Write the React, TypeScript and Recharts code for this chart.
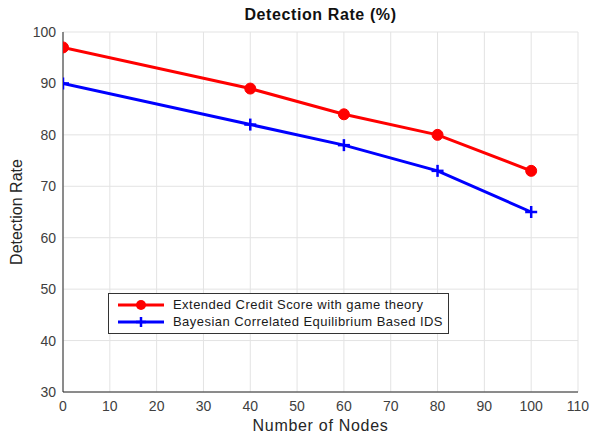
import { CartesianGrid, Line, LineChart, XAxis, YAxis } from "recharts";

const nodes = [0, 40, 60, 80, 100];
const creditScore = [97, 89, 84, 80, 73];
const bayesianIds = [90, 82, 78, 73, 65];
const xTicks = [0, 10, 20, 30, 40, 50, 60, 70, 80, 90, 100, 110];
const yTicks = [30, 40, 50, 60, 70, 80, 90, 100];

const seriesNames = {
  credit: "Extended Credit Score with game theory",
  bayes: "Bayesian Correlated Equilibrium Based IDS",
};

const data = nodes.map((n, i) => ({
  nodes: n,
  credit: creditScore[i],
  bayes: bayesianIds[i],
}));

const FONT = "'Liberation Sans', Arial, Helvetica, sans-serif";
const AXIS = "#262626";

function RedDot(props: any) {
  const { cx, cy } = props;
  if (cx == null || cy == null) return null;
  return <circle cx={cx} cy={cy} r={5.5} fill="#ff0000" stroke="#ff0000" />;
}

function BluePlus(props: any) {
  const { cx, cy } = props;
  if (cx == null || cy == null) return null;
  return (
    <g stroke="#0000ff" strokeWidth={2.5}>
      <line x1={cx - 6} y1={cy} x2={cx + 6} y2={cy} />
      <line x1={cx} y1={cy - 6} x2={cx} y2={cy + 6} />
    </g>
  );
}

const NoLabel = () => <g />;

// legend drawn as a plain box over the plot, like the matlab one
function LegendBox() {
  const rows = [
    { name: seriesNames.credit, color: "#ff0000", marker: "dot" },
    { name: seriesNames.bayes, color: "#0000ff", marker: "plus" },
  ];
  return (
    <div
      style={{
        position: "absolute",
        left: 108,
        top: 293,
        border: "1px solid #333",
        background: "#fff",
        width: 339,
        height: 37,
        padding: "2px 0 0 0",
        fontFamily: FONT,
        fontSize: 13,
        letterSpacing: 0.45,
        color: "#1a1a1a",
      }}
    >
      {rows.map((r) => (
        <div key={r.name} style={{ display: "flex", alignItems: "center", height: 17 }}>
          <svg width={64} height={14}>
            <line x1={9} y1={7} x2={55} y2={7} stroke={r.color} strokeWidth={3} />
            {r.marker === "dot" ? (
              <circle cx={32} cy={7} r={5} fill={r.color} />
            ) : (
              <g stroke={r.color} strokeWidth={2.5}>
                <line x1={27} y1={7} x2={37} y2={7} />
                <line x1={32} y1={2} x2={32} y2={12} />
              </g>
            )}
          </svg>
          <span>{r.name}</span>
        </div>
      ))}
    </div>
  );
}

export default function App() {
  const tickStyle = { fill: "#404040", fontSize: 14, fontFamily: FONT };
  return (
    <div style={{ position: "absolute", left: 0, top: 0, width: 592, height: 439, background: "#fff" }}>
      <div
        style={{
          position: "absolute",
          top: 6,
          left: 63,
          width: 515,
          textAlign: "center",
          fontFamily: FONT,
          fontWeight: 700,
          fontSize: 16,
          letterSpacing: 0.6,
          color: "#111",
        }}
      >
        Detection Rate (%)
      </div>
      <div
        style={{
          position: "absolute",
          left: 17,
          top: 212,
          transform: "translate(-50%, -50%) rotate(-90deg)",
          fontFamily: FONT,
          fontSize: 16,
          color: "#262626",
          whiteSpace: "nowrap",
        }}
      >
        Detection Rate
      </div>
      <div
        style={{
          position: "absolute",
          top: 417,
          left: 63,
          width: 515,
          textAlign: "center",
          fontFamily: FONT,
          fontSize: 16,
          letterSpacing: 0.7,
          color: "#262626",
        }}
      >
        Number of Nodes
      </div>
      <LineChart
        width={592}
        height={439}
        data={data}
        margin={{ top: 32, right: 14, left: 23, bottom: 17 }}
      >
        <CartesianGrid xAxisId="b" yAxisId="l" stroke="#e3e3e3" strokeWidth={1} />
        <XAxis
          xAxisId="b"
          dataKey="nodes"
          type="number"
          domain={[0, 110]}
          ticks={xTicks}
          allowDataOverflow
          tickLine={false}
          tickSize={0}
          tickMargin={9}
          height={30}
          axisLine={{ stroke: AXIS }}
          tick={tickStyle}
          interval={0}
        />
        <XAxis
          xAxisId="bi"
          type="number"
          domain={[0, 110]}
          ticks={xTicks}
          allowDataOverflow
          mirror
          height={0}
          tick={NoLabel}
          tickSize={5}
          tickLine={{ stroke: AXIS }}
          axisLine={false}
          interval={0}
        />
        <XAxis
          xAxisId="t"
          orientation="top"
          type="number"
          domain={[0, 110]}
          ticks={xTicks}
          allowDataOverflow
          mirror
          height={0}
          tick={NoLabel}
          tickSize={5}
          tickLine={{ stroke: AXIS }}
          axisLine={{ stroke: AXIS }}
          interval={0}
        />
        <YAxis
          yAxisId="l"
          type="number"
          domain={[30, 100]}
          ticks={yTicks}
          allowDataOverflow
          tickLine={false}
          tickSize={0}
          tickMargin={7}
          width={40}
          axisLine={{ stroke: AXIS }}
          tick={tickStyle}
          interval={0}
        />
        <YAxis
          yAxisId="li"
          type="number"
          domain={[30, 100]}
          ticks={yTicks}
          allowDataOverflow
          mirror
          width={0}
          tick={NoLabel}
          tickSize={5}
          tickLine={{ stroke: AXIS }}
          axisLine={false}
          interval={0}
        />
        <YAxis
          yAxisId="r"
          orientation="right"
          type="number"
          domain={[30, 100]}
          ticks={yTicks}
          allowDataOverflow
          mirror
          width={0}
          tick={NoLabel}
          tickSize={5}
          tickLine={{ stroke: AXIS }}
          axisLine={{ stroke: AXIS }}
          interval={0}
        />
        <Line
          xAxisId="b"
          yAxisId="l"
          dataKey="credit"
          name={seriesNames.credit}
          stroke="#ff0000"
          strokeWidth={3}
          dot={<RedDot />}
          activeDot={false}
          isAnimationActive={false}
        />
        <Line
          xAxisId="b"
          yAxisId="l"
          dataKey="bayes"
          name={seriesNames.bayes}
          stroke="#0000ff"
          strokeWidth={3}
          dot={<BluePlus />}
          activeDot={false}
          isAnimationActive={false}
        />
      </LineChart>
      <LegendBox />
    </div>
  );
}
